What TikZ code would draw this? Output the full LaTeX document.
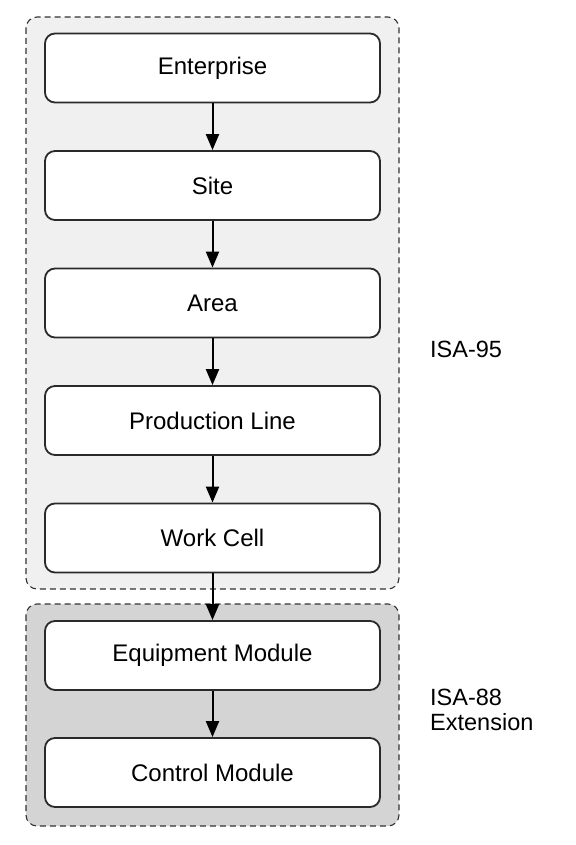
\documentclass[tikz,border=0pt]{standalone}
\usepackage{fontspec}
\setmainfont{Liberation Sans}
\usetikzlibrary{arrows.meta}
\definecolor{boxline}{HTML}{2A2A2A}
\definecolor{grpone}{HTML}{F0F0F0}
\definecolor{grptwo}{HTML}{D4D4D4}
\definecolor{grpline}{HTML}{333333}
\begin{document}
\begin{tikzpicture}[x=1pt,y=-1pt,
  levelbox/.style={draw=boxline, line width=1.8pt, fill=white, rounded corners=10pt,
    minimum width=335pt, minimum height=69pt, inner sep=0pt, font=\fontsize{24}{26}\selectfont},
  grpbox/.style={draw=grpline, line width=1.1pt, dash pattern=on 6pt off 4pt, rounded corners=11pt},
  flow/.style={line width=2pt, draw=black, -{Triangle[length=16pt,width=13pt]}},
  grplabel/.style={anchor=base west, align=left, inner sep=0pt, font=\fontsize{23.5}{24.5}\selectfont}]
\useasboundingbox (0,0) rectangle (575,845);
\draw[grpbox, fill=grpone] (26,17) rectangle (399,589);
\draw[grpbox, fill=grptwo] (26,604) rectangle (399,826);
\node[levelbox] (ent) at (212.5,68) {Enterprise};
\node[levelbox] (site) at (212.5,185.5) {Site};
\node[levelbox] (area) at (212.5,303) {Area};
\node[levelbox] (pl) at (212.5,420.5) {Production Line};
\node[levelbox] (wc) at (212.5,538) {Work Cell};
\node[levelbox] (em) at (212.5,655.5) {Equipment Module};
\node[levelbox] (cm) at (212.5,772.5) {Control Module};
\draw[flow] (ent) -- (site);
\draw[flow] (site) -- (area);
\draw[flow] (area) -- (pl);
\draw[flow] (pl) -- (wc);
\draw[flow] (wc) -- (em);
\draw[flow] (em) -- (cm);
\node[grplabel] (l95) at (430,357) {ISA-95};
\node[grplabel] (l88) at (430,730) {ISA-88\\Extension};
\end{tikzpicture}
\end{document}
